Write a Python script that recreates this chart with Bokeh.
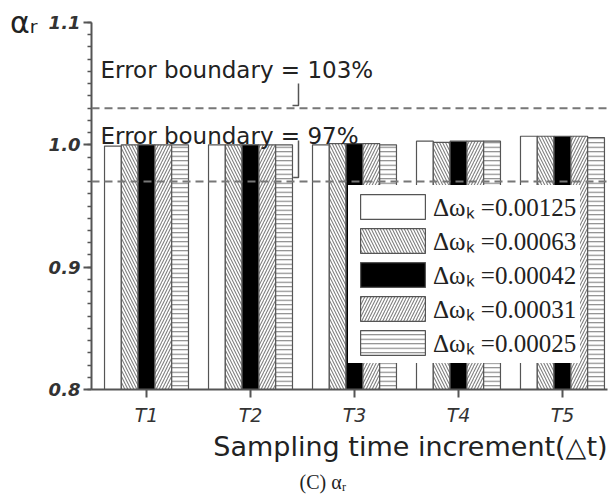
from bokeh.plotting import figure
from bokeh.models import Span, Label, Legend, LegendItem, FixedTicker, Range1d, PrintfTickFormatter, Title
from bokeh.embed import file_html
from bokeh.resources import INLINE

# ---------------- data ----------------
categories = ["T1", "T2", "T3", "T4", "T5"]
cat_pos = [1, 2, 3, 4, 5]
series_labels = ["Δωₖ =0.00125", "Δωₖ =0.00063", "Δωₖ =0.00042",
                 "Δωₖ =0.00031", "Δωₖ =0.00025"]
s_00125 = [0.999, 1.000, 1.000, 1.003, 1.007]
s_00063 = [1.000, 1.000, 1.001, 1.002, 1.007]
s_00042 = [1.000, 1.000, 1.001, 1.003, 1.007]
s_00031 = [1.000, 1.000, 1.001, 1.003, 1.007]
s_00025 = [1.000, 1.000, 1.000, 1.003, 1.006]
series_values = [s_00125, s_00063, s_00042, s_00031, s_00025]
error_bounds = [1.03, 0.97]
error_texts = ["Error boundary = 103%", "Error boundary = 97%"]
y_ticks = [0.8, 0.9, 1.0, 1.1]
y_minor = [round(0.8 + 0.01 * i, 2) for i in range(31)]
baseline = 0.8

# ---------------- styles ----------------
fills = ["white", "white", "black", "white", "white"]
hatches = [None, "\\", None, "/", "-"]
hatch_scales = [6, 6, 6, 6, 4.5]
bar_w = 0.1615
TXT = "#222222"
AX = "#555555"


def try_set(obj, name, options):
    for v in options:
        try:
            setattr(obj, name, v)
            return True
        except Exception:
            pass
    return False


p = figure(width=611, height=504, x_range=Range1d(0.471, 5.433), y_range=Range1d(0.8, 1.1),
           output_backend="svg", toolbar_location=None,
           min_border_left=91, min_border_right=4, min_border_top=22, min_border_bottom=115)
p.outline_line_color = None
p.xgrid.visible = False
p.ygrid.visible = False
p.background_fill_color = "white"

renderers = []
for j, vals in enumerate(series_values):
    xs = [c + (j - 2) * bar_w for c in cat_pos]
    kw = dict(x=xs, top=vals, bottom=baseline, width=bar_w, fill_color=fills[j],
              line_color=AX, line_width=1.2)
    if hatches[j] is not None:
        kw.update(hatch_pattern=hatches[j], hatch_color="#808080",
                  hatch_scale=hatch_scales[j], hatch_weight=1.1)
    renderers.append(p.vbar(**kw))

# error boundary lines
for b in error_bounds:
    p.add_layout(Span(location=b, dimension="width", line_color="#777777",
                      line_dash="8 5", line_width=2))

# annotation text for boundaries
text_pos = [(0.558, 1.0608), (0.558, 1.0076)]
for (tx, ty), t in zip(text_pos, error_texts):
    p.add_layout(Label(x=tx, y=ty, text=t, text_font="DejaVu Sans", text_font_size="23px",
                       text_color=TXT, text_baseline="alphabetic"))

# leader lines
leader_a_x = [2.4615, 2.4615, 2.404]
leader_a_y = [1.0501, 1.0321, 1.0321]
leader_b_x = [2.4615, 2.4615, 2.41]
leader_b_y = [1.0035, 0.9733, 0.9733]
p.line(leader_a_x, leader_a_y, line_color=AX, line_width=1.5)
p.line(leader_b_x, leader_b_y, line_color=AX, line_width=1.5)

# y axis
ya = p.yaxis[0]
ya.ticker = FixedTicker(ticks=y_ticks, minor_ticks=y_minor)
ya.formatter = PrintfTickFormatter(format="%.1f")
ya.major_tick_out = 8
ya.major_tick_in = 0
ya.minor_tick_out = 4
ya.minor_tick_in = 0
ya.axis_line_width = 2
ya.axis_line_color = AX
ya.major_tick_line_color = AX
ya.minor_tick_line_color = AX
ya.major_tick_line_width = 2
ya.minor_tick_line_width = 1.5
ya.major_label_text_font = "DejaVu Sans"
ya.major_label_text_font_style = "bold italic"
ya.major_label_text_font_size = "18px"
ya.major_label_text_color = "#333333"
ya.major_label_standoff = 3
ya.axis_label = "αᵣ"
ya.axis_label_orientation = "horizontal"
ya.axis_label_standoff = 8
ya.axis_label_text_font = "DejaVu Sans"
ya.axis_label_text_font_style = "normal"
ya.axis_label_text_font_size = "30px"
ya.axis_label_text_color = TXT
try_set(ya, "axis_label_align", ["end", "right", "top"])

# x axis
xa = p.xaxis[0]
xa.ticker = FixedTicker(ticks=cat_pos)
xa.major_label_overrides = {c: n for c, n in zip(cat_pos, categories)}
xa.major_tick_out = 8
xa.major_tick_in = 0
xa.minor_tick_out = 0
xa.axis_line_width = 2
xa.axis_line_color = AX
xa.major_tick_line_color = AX
xa.major_tick_line_width = 2
xa.major_label_text_font = "DejaVu Sans"
xa.major_label_text_font_style = "italic"
xa.major_label_text_font_size = "19px"
xa.major_label_text_color = "#333333"
xa.major_label_standoff = 6

# x axis title (right aligned, as in the reference)
p.add_layout(Title(text="Sampling time increment(△t)", align="right", offset=0,
                   text_font="DejaVu Sans", text_font_size="27px", text_font_style="normal",
                   text_color=TXT, standoff=0), "below")

# caption
p.add_layout(Title(text="(C)  αᵣ", align="left", offset=208, text_font="Liberation Serif",
                   text_font_size="20px", text_font_style="normal", text_color=TXT,
                   standoff=15), "below")

# legend
items = [LegendItem(label=lbl, renderers=[r]) for lbl, r in zip(series_labels, renderers)]
legend = Legend(items=items, location=(257, 26), glyph_width=81, glyph_height=31, label_height=31,
                spacing=0, padding=4, label_standoff=0, margin=0, border_line_alpha=0,
                background_fill_color="white", background_fill_alpha=1.0,
                label_text_font="Liberation Serif", label_text_font_size="25px",
                label_text_color=TXT)
p.add_layout(legend)

open("out.html", "w").write(file_html(p, INLINE))
